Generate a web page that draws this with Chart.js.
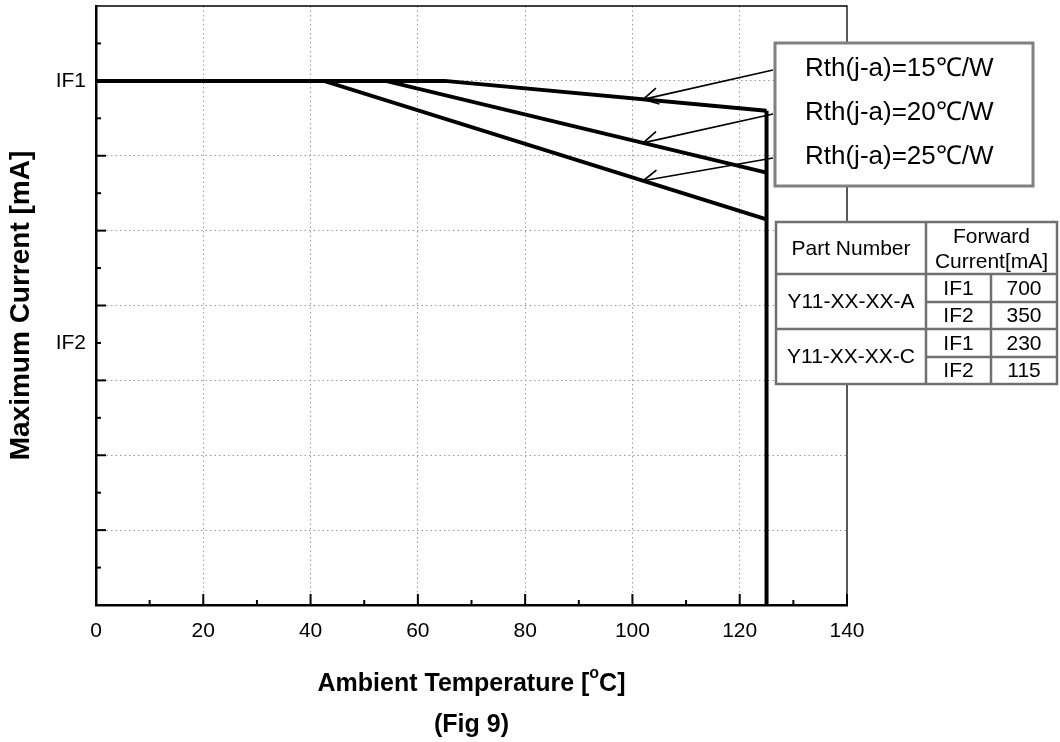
<!DOCTYPE html>
<html>
<head>
<meta charset="utf-8">
<title>Fig 9 - Maximum Current vs Ambient Temperature</title>
<script src="https://cdn.jsdelivr.net/npm/chart.js@4.4.0/dist/chart.umd.min.js"></script>
<style>
  html, body { margin: 0; padding: 0; background: #fff; }
  #chart { display: block; }
</style>
</head>
<body>
<canvas id="chart" width="1060" height="742"></canvas>
<script>
// Derating curves (Fig 9)
// Current axis is counted in half steps of IF2, so IF1 = 14 and IF2 = 7

const rth15Temp = [0, 65, 125];
const rth15Current = [14, 14, 13.2];
const rth20Temp = [0, 54, 125];
const rth20Current = [14, 14, 11.55];
const rth25Temp = [0, 42.5, 125];
const rth25Current = [14, 14, 10.3];
const cutoffTemp = [125, 125];
const cutoffCurrent = [13.2, 0];

const seriesLabels = ['Rth(j-a)=15℃/W', 'Rth(j-a)=20℃/W', 'Rth(j-a)=25℃/W'];
const yTickLabels = { 14: 'IF1', 7: 'IF2' };

// Part number table
const partNumbers = ['Y11-XX-XX-A', 'Y11-XX-XX-C'];
const currentLevels = ['IF1', 'IF2'];
const forwardCurrentA = [700, 350];
const forwardCurrentC = [230, 115];

const FONT = '"Liberation Sans", Arial, Helvetica, sans-serif';
Chart.defaults.font.family = FONT;
Chart.defaults.color = '#000';

function toPoints(xs, ys) {
  return xs.map((x, i) => ({ x: x, y: ys[i] }));
}

// value of a polyline at x (used to put the arrow heads on the curves)
function valueAt(xs, ys, x) {
  for (let i = 1; i < xs.length; i++) {
    if (x <= xs[i]) {
      const t = (x - xs[i - 1]) / (xs[i] - xs[i - 1]);
      return ys[i - 1] + t * (ys[i] - ys[i - 1]);
    }
  }
  return ys[ys.length - 1];
}

function drawArrow(ctx, x1, y1, x2, y2) {
  ctx.beginPath();
  ctx.moveTo(x1, y1);
  ctx.lineTo(x2, y2);
  ctx.stroke();
  const ang = Math.atan2(y1 - y2, x1 - x2);
  const len = 17, spread = 0.5;
  ctx.beginPath();
  ctx.moveTo(x2 + len * Math.cos(ang - spread), y2 + len * Math.sin(ang - spread));
  ctx.lineTo(x2, y2);
  ctx.lineTo(x2 + len * Math.cos(ang + spread), y2 + len * Math.sin(ang + spread));
  ctx.stroke();
}

const figureExtras = {
  id: 'figureExtras',
  afterDraw(chart) {
    const ctx = chart.ctx;
    const area = chart.chartArea;
    const xScale = chart.scales.x;
    const yScale = chart.scales.y;

    ctx.save();

    // thin top and right frame
    ctx.strokeStyle = '#000';
    ctx.lineWidth = 1.3;
    ctx.beginPath();
    ctx.moveTo(area.left, area.top);
    ctx.lineTo(area.right, area.top);
    ctx.lineTo(area.right, area.bottom);
    ctx.stroke();

    // inward tick marks
    ctx.lineWidth = 2;
    xScale.ticks.forEach(t => {
      const px = xScale.getPixelForValue(t.value);
      const len = t.value % 20 === 0 ? 11 : 5;
      ctx.beginPath();
      ctx.moveTo(px, area.bottom);
      ctx.lineTo(px, area.bottom - len);
      ctx.stroke();
    });
    yScale.ticks.forEach(t => {
      const py = yScale.getPixelForValue(t.value);
      const len = t.value % 2 === 0 ? 10 : 5;
      ctx.beginPath();
      ctx.moveTo(area.left, py);
      ctx.lineTo(area.left + len, py);
      ctx.stroke();
    });

    // x axis title with superscript o
    const cx = (area.left + area.right) / 2;
    ctx.fillStyle = '#000';
    ctx.textBaseline = 'middle';
    ctx.textAlign = 'left';
    const part1 = 'Ambient Temperature [', sup = 'o', part2 = 'C]';
    ctx.font = 'bold 25px ' + FONT;
    const w1 = ctx.measureText(part1).width;
    const w3 = ctx.measureText(part2).width;
    ctx.font = 'bold 16px ' + FONT;
    const w2 = ctx.measureText(sup).width;
    let tx = cx - (w1 + w2 + w3) / 2;
    const ty = 684;
    ctx.font = 'bold 25px ' + FONT;
    ctx.fillText(part1, tx, ty);
    tx += w1;
    ctx.font = 'bold 16px ' + FONT;
    ctx.fillText(sup, tx, ty - 10);
    tx += w2;
    ctx.font = 'bold 25px ' + FONT;
    ctx.fillText(part2, tx, ty);
    ctx.textAlign = 'center';
    ctx.fillText('(Fig 9)', cx, 725);

    // legend box with the three thermal resistances
    const box = { x: 775, y: 43, w: 258, h: 143 };
    ctx.fillStyle = '#fff';
    ctx.fillRect(box.x, box.y, box.w, box.h);
    ctx.strokeStyle = '#808080';
    ctx.lineWidth = 3;
    ctx.strokeRect(box.x, box.y, box.w, box.h);

    ctx.fillStyle = '#000';
    ctx.font = '26px ' + FONT;
    ctx.textAlign = 'left';
    const lineYs = [69, 113, 157];
    seriesLabels.forEach((label, i) => {
      ctx.fillText(label, box.x + 30, lineYs[i]);
    });

    // arrows from the box to each curve
    const curves = [[rth15Temp, rth15Current], [rth20Temp, rth20Current], [rth25Temp, rth25Current]];
    const arrowTemp = 102;
    ctx.strokeStyle = '#000';
    ctx.lineWidth = 1.7;
    curves.forEach((c, i) => {
      const tipX = xScale.getPixelForValue(arrowTemp);
      const tipY = yScale.getPixelForValue(valueAt(c[0], c[1], arrowTemp));
      drawArrow(ctx, box.x - 2, lineYs[i] + 1, tipX, tipY);
    });

    // part number table
    const cols = [776, 926, 991, 1057];
    const rows = [222, 274, 302, 329, 357, 384];
    ctx.fillStyle = '#fff';
    ctx.fillRect(cols[0], rows[0], cols[3] - cols[0], rows[5] - rows[0]);
    ctx.strokeStyle = '#707070';
    ctx.lineWidth = 2.5;
    ctx.strokeRect(cols[0], rows[0], cols[3] - cols[0], rows[5] - rows[0]);
    ctx.beginPath();
    // column separators
    ctx.moveTo(cols[1], rows[0]); ctx.lineTo(cols[1], rows[5]);
    ctx.moveTo(cols[2], rows[1]); ctx.lineTo(cols[2], rows[5]);
    // row separators
    ctx.moveTo(cols[0], rows[1]); ctx.lineTo(cols[3], rows[1]);
    ctx.moveTo(cols[1], rows[2]); ctx.lineTo(cols[3], rows[2]);
    ctx.moveTo(cols[0], rows[3]); ctx.lineTo(cols[3], rows[3]);
    ctx.moveTo(cols[1], rows[4]); ctx.lineTo(cols[3], rows[4]);
    ctx.stroke();

    ctx.fillStyle = '#000';
    ctx.font = '21px ' + FONT;
    ctx.textAlign = 'center';
    const mid = (a, b) => (a + b) / 2;
    ctx.fillText('Part Number', mid(cols[0], cols[1]), mid(rows[0], rows[1]) + 1);
    ctx.fillText('Forward', mid(cols[1], cols[3]), rows[0] + 15);
    ctx.fillText('Current[mA]', mid(cols[1], cols[3]), rows[0] + 40);
    const values = [forwardCurrentA, forwardCurrentC];
    partNumbers.forEach((pn, p) => {
      const r0 = rows[1 + p * 2], r1 = rows[2 + p * 2], r2 = rows[3 + p * 2];
      ctx.fillText(pn, mid(cols[0], cols[1]), mid(r0, r2) + 1);
      currentLevels.forEach((lvl, k) => {
        const top = k === 0 ? r0 : r1;
        const bot = k === 0 ? r1 : r2;
        ctx.fillText(lvl, mid(cols[1], cols[2]), mid(top, bot) + 1);
        ctx.fillText(String(values[p][k]), mid(cols[2], cols[3]), mid(top, bot) + 1);
      });
    });

    ctx.restore();
  }
};

const lineStyle = {
  showLine: true,
  borderColor: '#000',
  backgroundColor: '#000',
  borderWidth: 4,
  pointRadius: 0,
  tension: 0,
  fill: false
};

const ctx = document.getElementById('chart').getContext('2d');
window.deratingChart = new Chart(ctx, {
  type: 'scatter',
  data: {
    datasets: [
      Object.assign({ label: seriesLabels[0], data: toPoints(rth15Temp, rth15Current) }, lineStyle),
      Object.assign({ label: seriesLabels[1], data: toPoints(rth20Temp, rth20Current) }, lineStyle),
      Object.assign({ label: seriesLabels[2], data: toPoints(rth25Temp, rth25Current) }, lineStyle),
      Object.assign({ label: 'Tj limit', data: toPoints(cutoffTemp, cutoffCurrent) }, lineStyle)
    ]
  },
  options: {
    responsive: false,
    devicePixelRatio: 1,
    animation: false,
    events: [],
    layout: {
      padding: { top: 6, right: 213, left: 0, bottom: 0 }
    },
    plugins: {
      legend: { display: false },
      tooltip: { enabled: false }
    },
    scales: {
      x: {
        type: 'linear',
        min: 0,
        max: 140,
        afterFit: function(scale) { scale.height = 137; },
        ticks: {
          stepSize: 10,
          autoSkip: false,
          maxRotation: 0,
          padding: 14,
          font: { size: 21 },
          callback: function(value) {
            return value % 20 === 0 ? String(value) : '';
          }
        },
        grid: {
          drawTicks: false,
          lineWidth: 1,
          color: function(c) {
            const v = c.tick ? c.tick.value : 0;
            return (v > 0 && v < 140 && v % 20 === 0) ? '#9a9a9a' : 'rgba(0,0,0,0)';
          }
        },
        border: { display: true, color: '#000', width: 2.5, dash: [1.5, 3] }
      },
      y: {
        type: 'linear',
        min: 0,
        max: 16,
        afterFit: function(scale) {
          scale.width = 96;
          scale.paddingTop = 0;
          scale.paddingBottom = 0;
        },
        ticks: {
          stepSize: 1,
          autoSkip: false,
          padding: 10,
          font: { size: 21 },
          callback: function(value) {
            if (value === 0 || value === 16) return null;
            return yTickLabels[value] || '';
          }
        },
        grid: {
          drawTicks: false,
          lineWidth: 1,
          color: function(c) {
            const v = c.tick ? c.tick.value : 0;
            return (v > 0 && v < 16 && v % 2 === 0) ? '#9a9a9a' : 'rgba(0,0,0,0)';
          }
        },
        border: { display: true, color: '#000', width: 2.5, dash: [1.5, 3] },
        title: {
          display: true,
          text: 'Maximum Current [mA]',
          font: { size: 28, weight: 'bold' },
          padding: { top: 4, bottom: 0 }
        }
      }
    }
  },
  plugins: [figureExtras]
});
</script>
</body>
</html>
